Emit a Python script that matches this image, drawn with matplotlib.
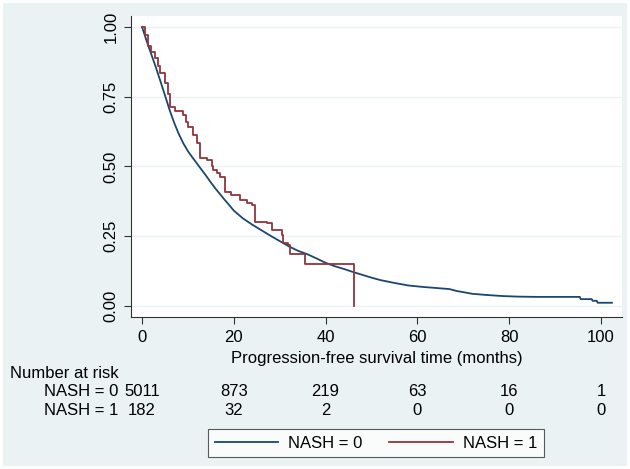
import matplotlib.pyplot as plt
import matplotlib.transforms as mtransforms
from matplotlib.patches import Rectangle

plt.rcParams['font.family'] = ['Liberation Sans', 'DejaVu Sans']

# Kaplan-Meier curve, NASH = 0
t0 = [0, 1, 2, 3, 4, 5, 6, 7, 8, 9, 10, 11, 12, 13, 14, 15, 16, 17, 18, 19, 20,
      22, 24, 26, 28, 30, 32, 34, 36, 38, 40, 42, 44, 46, 48, 50, 52, 55, 58, 61,
      64, 67, 68.6, 70, 72, 75, 78.6, 82, 86, 95.4, 95.6, 98, 98.2, 99.1, 99.3, 102.4]
s0 = [1.0, 0.950, 0.903, 0.856, 0.806, 0.755, 0.703, 0.657, 0.617, 0.583, 0.555,
      0.532, 0.510, 0.488, 0.466, 0.443, 0.421, 0.401, 0.381, 0.362, 0.342,
      0.314, 0.292, 0.272, 0.252, 0.233, 0.214, 0.198, 0.186, 0.171, 0.155, 0.143,
      0.133, 0.122, 0.112, 0.102, 0.093, 0.083, 0.074, 0.069, 0.065, 0.061, 0.054,
      0.050, 0.044, 0.040, 0.036, 0.034, 0.033, 0.033, 0.025, 0.025, 0.019, 0.019,
      0.012, 0.012]

# Kaplan-Meier curve, NASH = 1 (step function)
t1 = [0, 0.6, 1.3, 2.0, 2.8, 3.4, 3.9, 5.0, 5.6, 6.1, 7.2, 8.9, 9.5, 10.0, 11.1, 12.0,
      12.6, 14.2, 15.2, 15.5, 16.3, 17.0, 18.1, 19.5, 21.4, 22.9, 24.0, 24.6, 27.2, 28.3,
      30.5, 30.7, 31.8, 32.2, 35.5, 46.2, 46.2]
s1 = [1.0, 0.97, 0.93, 0.91, 0.89, 0.86, 0.835, 0.80, 0.76, 0.713, 0.70, 0.685, 0.66,
      0.64, 0.613, 0.584, 0.53, 0.523, 0.50, 0.487, 0.477, 0.462, 0.409, 0.398, 0.381,
      0.369, 0.362, 0.301, 0.297, 0.272, 0.254, 0.226, 0.219, 0.186, 0.151, 0.151, 0.0]

# Number at risk
risk_times = [0, 20, 40, 60, 80, 100]
risk_nash0 = [5011, 873, 219, 63, 16, 1]
risk_nash1 = [182, 32, 2, 0, 0, 0]

bg = "#EAF2F3"
blue = "#1A476F"
red = "#90353B"
fs = 12

fig = plt.figure(figsize=(6.3, 4.69), dpi=100)
fig.patch.set_facecolor("white")
fig.patches.append(Rectangle((3 / 630, 3 / 469), 624 / 630, 463 / 469,
                             transform=fig.transFigure, facecolor=bg,
                             edgecolor="none", zorder=-10))

ax = fig.add_axes([131 / 630, 1 - 317 / 469, 491 / 630, 301 / 469])
ax.set_facecolor("white")

ax.plot(t0, s0, color=blue, linewidth=1.3, label="NASH = 0")
ax.step(t1, s1, where="post", color=red, linewidth=1.3, label="NASH = 1")

ax.set_xlim(-2.4, 104.6)
ax.set_ylim(-0.039, 1.039)
ax.set_xticks(risk_times)
ax.set_yticks([0, 0.25, 0.5, 0.75, 1.0])
ax.set_yticklabels(["0.00", "0.25", "0.50", "0.75", "1.00"], rotation=90, va="center")
ax.tick_params(labelsize=fs, length=5, width=0.8, color="#333333", pad=4)
ax.grid(axis="y", color=bg, linewidth=1.0)
ax.set_axisbelow(True)
for side in ["top", "right"]:
    ax.spines[side].set_visible(False)
for side in ["left", "bottom"]:
    ax.spines[side].set_color("#333333")
    ax.spines[side].set_linewidth(0.8)

ax.set_xlabel("Progression-free survival time (months)", fontsize=fs, labelpad=5)

# Tabell med antal i risk under x-axeln
trans = mtransforms.blended_transform_factory(ax.transData, fig.transFigure)
fig.text(10 / 630, 1 - 373 / 469, "Number at risk", fontsize=fs, va="center")
fig.text(118 / 630, 1 - 392 / 469, "NASH = 0", fontsize=fs, va="center", ha="right")
fig.text(118 / 630, 1 - 410 / 469, "NASH = 1", fontsize=fs, va="center", ha="right")
for t, n0, n1 in zip(risk_times, risk_nash0, risk_nash1):
    ax.text(t, 1 - 392 / 469, str(n0), transform=trans, fontsize=fs, ha="center", va="center")
    ax.text(t, 1 - 410 / 469, str(n1), transform=trans, fontsize=fs, ha="center", va="center")

leg = fig.legend(loc="center", bbox_to_anchor=(376 / 630, 1 - 443 / 469), ncol=2,
                 fontsize=fs, frameon=True, fancybox=False, handlelength=3.8,
                 columnspacing=1.6, handletextpad=0.6, borderpad=0.4)
leg.get_frame().set_edgecolor("#333333")
leg.get_frame().set_linewidth(0.8)
leg.get_frame().set_facecolor("white")

plt.savefig("out.png", dpi=100, facecolor=fig.get_facecolor())
